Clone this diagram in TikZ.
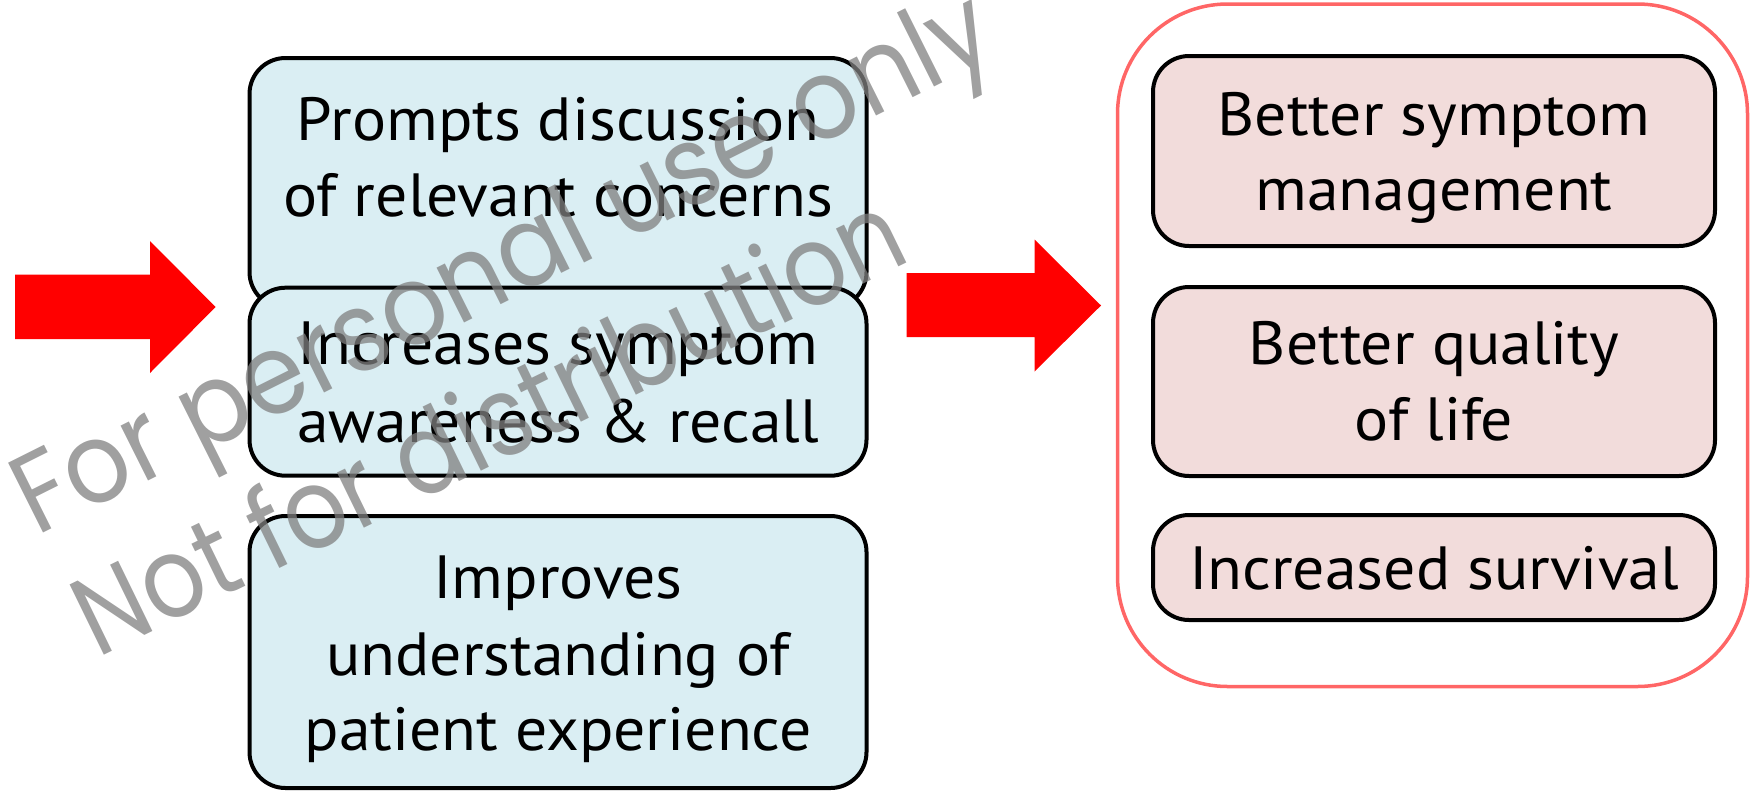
\documentclass[tikz,border=0pt]{standalone}
\usepackage{fontspec}
\newfontfamily\mainfnt[FakeStretch=1.045]{PT Sans}
\newfontfamily\wmfnt[FakeStretch=0.88]{Poppins}
\newfontfamily\wmfntwide[FakeStretch=0.91]{Poppins}
\definecolor{boxblue}{HTML}{DAEEF3}
\definecolor{boxpink}{HTML}{F2DCDB}
\definecolor{outline}{HTML}{FF6666}
\definecolor{wmgray}{HTML}{808080}
\tikzset{
  box/.style={draw=black, line width=4pt, rounded corners=36pt, inner sep=0pt, outer sep=0pt},
  bluebox/.style={box, fill=boxblue},
  pinkbox/.style={box, fill=boxpink},
  groupbox/.style={draw=outline, line width=3.5pt, rounded corners=110pt, inner sep=0pt},
  txt/.style={font=\mainfnt\fontsize{61}{76}\selectfont, inner sep=0pt, anchor=base},
  wm/.style={font=\wmfnt\fontsize{112}{130}\selectfont, text=wmgray, opacity=0.75, inner sep=0pt, anchor=base west, rotate=26},
  bigarrow/.style={fill=red, draw=none}
}
\begin{document}
\begin{tikzpicture}[x=1pt,y=-1pt]
\useasboundingbox (0,0) rectangle (1752,793);
% left block arrow
\fill[bigarrow] (15,274.5) -- (150,274.5) -- (150,241) -- (215.6,307) -- (150,373) -- (150,339) -- (15,339) -- cycle;
% middle block arrow
\fill[bigarrow] (906.5,273) -- (1034.5,273) -- (1034.5,239.5) -- (1101,305.5) -- (1034.5,371.5) -- (1034.5,337) -- (906.5,337) -- cycle;
% left column
\node[bluebox, minimum width=617pt, minimum height=250pt] (b1) at (558,183) {};
\node[bluebox, minimum width=617pt, minimum height=188pt] (b2) at (558,381.7) {};
\node[bluebox, minimum width=617pt, minimum height=272pt] (b3) at (558,652) {};
\node[txt] (t1a) at (558,140.6) {Prompts discussion};
\node[txt] (t1b) at (558,216.5) {of relevant concerns};
\node[txt] (t2a) at (558,364) {Increases symptom};
\node[txt] (t2b) at (558,442) {awareness \& recall};
\node[txt] (t3a) at (558,598) {Improves};
\node[txt] (t3b) at (558,675) {understanding of};
\node[txt] (t3c) at (558,750) {patient experience};
% right group
\node[groupbox, minimum width=630pt, minimum height=682.5pt] (grp) at (1432.5,345.25) {};
\node[pinkbox, minimum width=562pt, minimum height=190pt] (ra) at (1434,151) {};
\node[pinkbox, minimum width=562pt, minimum height=189pt] (rb) at (1434,381.5) {};
\node[pinkbox, minimum width=562pt, minimum height=105pt] (rc) at (1434,567.5) {};
\node[txt] (tra) at (1434,135.5) {Better symptom};
\node[txt] (trb) at (1434,210) {management};
\node[txt] (trc) at (1434,364) {Better quality};
\node[txt] (trd) at (1434,440) {of life};
\node[txt] (tre) at (1434,589) {Increased survival};
% watermark
\node[wm, font=\wmfntwide\fontsize{112}{130}\selectfont, rotate=0.6] (wm1) at (36.7,536.7) {For personal use only};
\node[wm] (wm2) at (97,658.3) {Not for distribution};
\end{tikzpicture}
\end{document}
